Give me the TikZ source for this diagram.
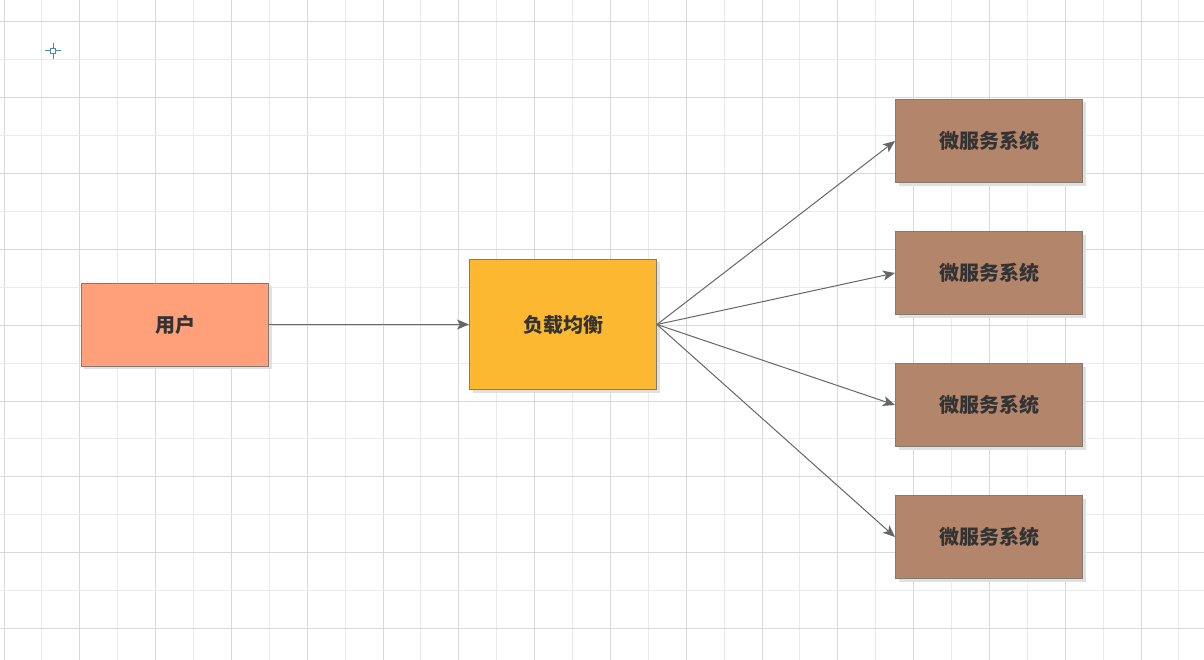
\documentclass[tikz,border=0pt]{standalone}
\usepackage{fontspec}
\newfontfamily\cjk{Noto Sans CJK SC}
\usetikzlibrary{arrows.meta, positioning, shadows}
\definecolor{gridmajor}{HTML}{D9D9D9}
\definecolor{gridminor}{HTML}{EBEBEB}
\definecolor{userfill}{HTML}{FFA07A}
\definecolor{lbfill}{HTML}{FCB831}
\definecolor{msfill}{HTML}{B3856A}
\definecolor{boxline}{HTML}{857A72}
\definecolor{textgrey}{HTML}{333333}
\definecolor{arrowgrey}{HTML}{666666}
\definecolor{markblue}{HTML}{4A8AAE}
\tikzset{
  >={Stealth[length=12bp, width=10bp, inset=3bp]},
  box/.style={rectangle, draw=boxline, line width=1bp, align=center,
              minimum width=187bp, minimum height=83bp, inner sep=0pt,
              text=textgrey, font=\cjk\bfseries\fontsize{20bp}{24bp}\selectfont,
              general shadow={fill=black!12, shadow xshift=3bp, shadow yshift=-3bp}},
  userbox/.style={box, fill=userfill},
  lbbox/.style={box, fill=lbfill, minimum height=130bp},
  msbox/.style={box, fill=msfill},
  flow/.style={->, line width=1bp, draw=arrowgrey, arrowgrey},
}
\begin{document}
\begin{tikzpicture}[x=1bp, y=-1bp]
    \useasboundingbox[fill=white] (0,0) rectangle (1204,660);
    % grid
    \foreach \k in {0,...,31} {
      \pgfmathsetmacro{\gx}{4+37.9*\k}
      \ifodd\k \def\gc{gridminor}\else \def\gc{gridmajor}\fi
      \draw[\gc, line width=1bp] (\gx,0) -- (\gx,660);
    }
    \foreach \k in {0,...,16} {
      \pgfmathsetmacro{\gy}{22+37.9*\k}
      \ifodd\k \def\gc{gridminor}\else \def\gc{gridmajor}\fi
      \draw[\gc, line width=1bp] (0,\gy) -- (1204,\gy);
    }
    % origin mark
    \draw[markblue, line width=1bp] (50.5,48.5) rectangle (55.5,53.5)
      (45,51) -- (50.5,51) (55.5,51) -- (61,51)
      (53,43) -- (53,48.5) (53,53.5) -- (53,59);
    \node[userbox] (user) at (175,324.5) {用户};
    \node[lbbox, right=200bp of user] (lb) {负载均衡};
    \node[msbox] (ms1) at (989,141) {微服务系统};
    \node[msbox, below=48bp of ms1] (ms2) {微服务系统};
    \node[msbox, below=48bp of ms2] (ms3) {微服务系统};
    \node[msbox, below=48bp of ms3] (ms4) {微服务系统};
    \draw[flow] (user) -- (lb);
    \draw[flow] (lb.east) -- (ms1.west);
    \draw[flow] (lb.east) -- (ms2.west);
    \draw[flow] (lb.east) -- (ms3.west);
    \draw[flow] (lb.east) -- (ms4.west);
  \end{tikzpicture}
\end{document}
